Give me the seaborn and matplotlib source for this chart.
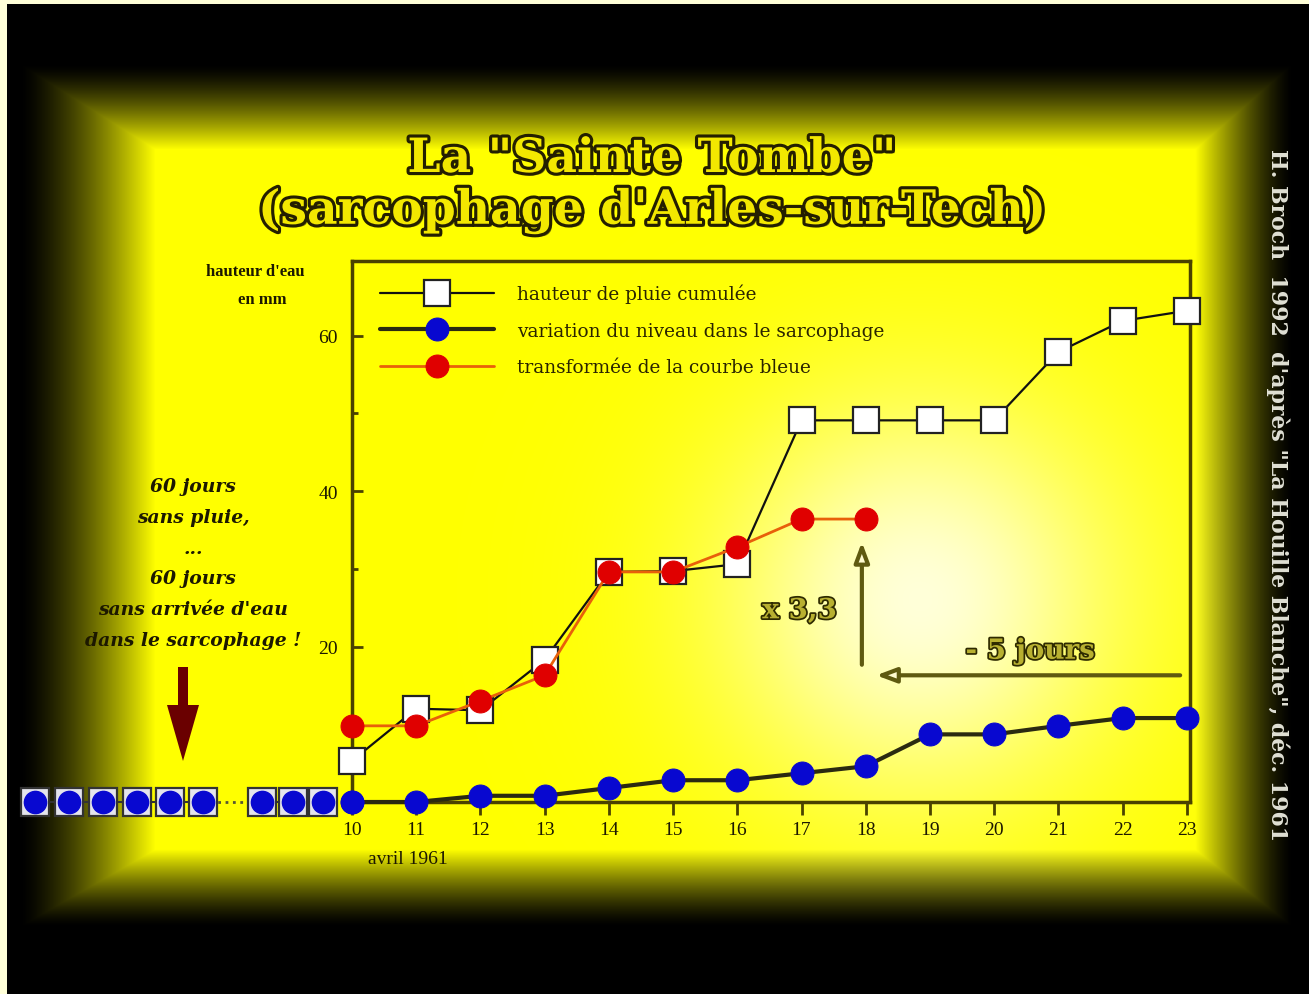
import numpy as np
import matplotlib
matplotlib.use("Agg")
import matplotlib.pyplot as plt
import matplotlib.patheffects as pe
from matplotlib.patches import FancyArrow
import seaborn as sns

# ---------- données ----------
jours = [10, 11, 12, 13, 14, 15, 16, 17, 18, 19, 20, 21, 22, 23]
pluie_cumulee = [5.3, 12.0, 11.8, 18.3, 29.6, 29.7, 30.6, 49.1, 49.1, 49.1, 49.1, 57.9, 61.9, 63.2]
niveau_sarco = [0.0, 0.0, 0.8, 0.8, 1.8, 2.8, 2.8, 3.7, 4.6, 8.7, 8.7, 9.8, 10.8, 10.8]
jours_transf = [10, 11, 12, 13, 14, 15, 16, 17, 18]
courbe_transf = [9.8, 9.8, 13.0, 16.3, 29.6, 29.6, 32.8, 36.4, 36.4]
# jours précédents (60 jours sans pluie), représentés de façon symbolique
avant_x = [5.06, 5.59, 6.12, 6.65, 7.17, 7.68, 8.60, 9.08, 9.55]
avant_y = [0, 0, 0, 0, 0, 0, 0, 0, 0]

labels = ["hauteur de pluie cumulée",
          "variation du niveau dans le sarcophage",
          "transformée de la courbe bleue"]
texte_gauche = ["60 jours", "sans pluie,", "...", "60 jours",
                "sans arrivée d'eau", "dans le sarcophage !"]

W, H = 1309, 995
sns.set_style("ticks")
plt.rcParams["font.family"] = ["Liberation Serif", "DejaVu Serif"]

fig = plt.figure(figsize=(W / 100, H / 100), dpi=100)

# ---------- fond : cadre noir + jaune "coussin" ----------
yy, xx = np.mgrid[0:H, 0:W].astype(float)
t = np.minimum.reduce([(xx - 20) / 135, (1292 - xx) / 97,
                       (yy - 65) / 85, (927 - yy) / 77])
t = np.clip(t, 0, 1) ** 1.4
r = np.hypot(xx - 920, yy - 600)
hl = 0.85 * np.exp(-(r / 200) ** 2)
img = np.zeros((H, W, 3))
img[..., 0] = t
img[..., 1] = t
img[..., 2] = t * hl
img[:, :7] = [1, 1, 0.85]
img[:5, :] = [1, 1, 0.85]

bg = fig.add_axes([0, 0, 1, 1], zorder=0)
bg.imshow(img, extent=(0, W, H, 0), aspect="auto", interpolation="bilinear")
bg.set_xlim(0, W)
bg.set_ylim(H, 0)
bg.axis("off")

# ---------- titre ----------
titre_fx = [pe.withSimplePatchShadow(offset=(2, -2), shadow_rgbFace="#3a3300", alpha=0.6),
            pe.withStroke(linewidth=4.5, foreground="#241f00")]
for txt, y in [('La "Sainte Tombe"', 160), ("(sarcophage d'Arles-sur-Tech)", 212)]:
    bg.text(652, y, txt, ha="center", va="center", fontsize=34, fontweight="bold",
            family="DejaVu Serif", color="#f3e800", path_effects=titre_fx)

bg.text(255, 272, "hauteur d'eau", ha="center", va="center", fontsize=12,
        fontweight="bold", color="#1c1800")
bg.text(262, 300, "en mm", ha="center", va="center", fontsize=12,
        fontweight="bold", color="#1c1800")

for i, ligne in enumerate(texte_gauche):
    bg.text(193, 487 + i * 30.8, ligne, ha="center", va="center", fontsize=13.5,
            fontweight="bold", fontstyle="italic", family="DejaVu Serif",
            color="#1c1800")

bg.add_patch(FancyArrow(183, 668, 0, 94, width=10, head_width=32, head_length=56,
                        length_includes_head=True, color="#6a0000", lw=0))

bg.text(1278, 495, "H. Broch  1992  d'après \"La Houille Blanche\", déc. 1961",
        ha="center", va="center", rotation=-90, fontsize=15.8, fontweight="bold",
        family="DejaVu Serif", color="#e0e0d4")

# ---------- graphique ----------
ax = fig.add_axes([352 / W, 1 - 803 / H, (1190 - 352) / W, (803 - 262) / H], zorder=1)
ax.set_facecolor("none")

sns.lineplot(x=jours, y=pluie_cumulee, ax=ax, color="#111111", lw=1.6,
             marker="s", ms=19, mfc="white", mec="#222222", mew=1.6,
             label=labels[0], zorder=3, clip_on=False)
sns.lineplot(x=jours, y=niveau_sarco, ax=ax, color="#2b2a10", lw=3,
             marker="o", ms=16.5, mfc="#0808d0", mec="#0808d0",
             label=labels[1], zorder=3, clip_on=False)
sns.lineplot(x=jours_transf, y=courbe_transf, ax=ax, color="#e8600a", lw=2,
             marker="o", ms=16.5, mfc="#e00000", mec="#e00000",
             label=labels[2], zorder=4, clip_on=False)

# jours antérieurs hors axes
ax.plot(avant_x[:6], avant_y[:6], color="#333333", lw=1.5, marker="s", ms=19.5,
        mfc="#e4e4ec", mec="#333333", mew=1.6, clip_on=False, zorder=3)
ax.plot(avant_x[6:], avant_y[6:], color="#333333", lw=1.5, marker="s", ms=19.5,
        mfc="#e4e4ec", mec="#333333", mew=1.6, clip_on=False, zorder=3)
ax.plot([avant_x[5], avant_x[6]], [avant_y[5], avant_y[6]], color="#555533",
        lw=2, ls=":", clip_on=False, zorder=2)
ax.plot(avant_x + [jours[0]], avant_y + [niveau_sarco[0]], ls="none", marker="o",
        ms=16, mfc="#0808d0", mec="#0808d0", clip_on=False, zorder=5)

ax.set_xlim(10, 23.05)
ax.set_ylim(0, 69.6)
ax.set_xticks(jours)
ax.set_yticks([20, 40, 60])
ax.set_yticks([10, 30, 50], minor=True)
ax.set_xlabel("")
ax.set_ylabel("")
for s in ax.spines.values():
    s.set_visible(True)
    s.set_color("#4a4200")
    s.set_linewidth(2.5)
ax.tick_params(axis="y", which="major", direction="in", length=8, width=2,
               color="#4a4200", labelsize=14, pad=10, labelcolor="#1c1800")
ax.tick_params(axis="y", which="minor", direction="in", length=4, width=2,
               color="#4a4200")
ax.tick_params(axis="x", direction="out", length=9, width=2, color="#4a4200",
               labelsize=14, pad=5, labelcolor="#1c1800")

leg = ax.legend(loc="upper left", bbox_to_anchor=(0.024, 0.972), frameon=False,
                handlelength=6.2, handletextpad=1.25, labelspacing=1.0,
                borderaxespad=0, prop=dict(family="DejaVu Serif", size=13.3))
for tx in leg.get_texts():
    tx.set_color("#2a2400")

bg.text(408, 860, "avril 1961", ha="center", va="center", fontsize=14, color="#1c1800")

# flèches et annotations
ax.annotate("", xy=(17.94, 33.8), xytext=(17.94, 17.3),
            arrowprops=dict(arrowstyle="-|>,head_length=1.2,head_width=0.45",
                            lw=3, ec="#5f5a10", fc="#fffbd0"))
ax.annotate("", xy=(18.12, 16.3), xytext=(22.94, 16.3),
            arrowprops=dict(arrowstyle="-|>,head_length=1.2,head_width=0.45",
                            lw=3, ec="#5f5a10", fc="#fffbd0"))
grav_fx = [pe.withStroke(linewidth=2.5, foreground="#2e2a00")]
ax.text(16.97, 24.6, "x 3,3", ha="center", va="center", fontsize=20,
        fontweight="bold", family="DejaVu Serif", color="#b8b030", path_effects=grav_fx)
ax.text(20.56, 19.4, "- 5 jours", ha="center", va="center", fontsize=20,
        fontweight="bold", family="DejaVu Serif", color="#b8b030", path_effects=grav_fx)

fig.savefig("out.png", dpi=100)
